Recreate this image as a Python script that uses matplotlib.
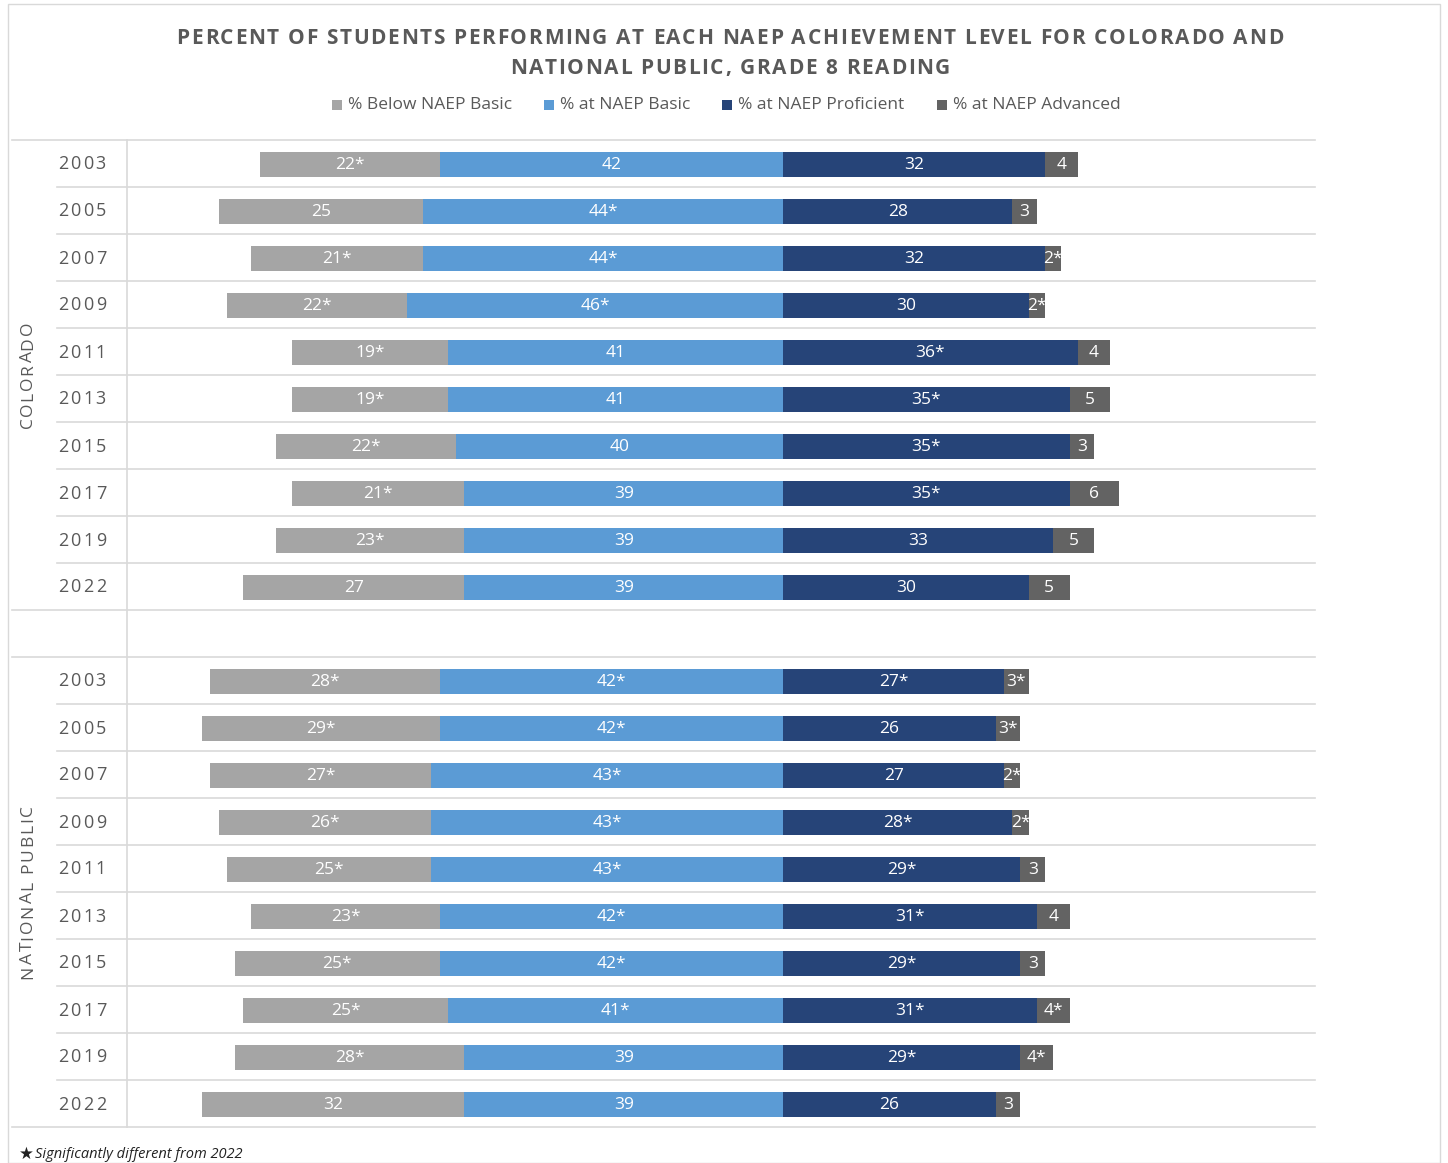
import matplotlib
matplotlib.use("Agg")
import matplotlib.pyplot as plt
from matplotlib.lines import Line2D
from matplotlib.patches import Rectangle
from matplotlib.font_manager import FontProperties

plt.rcParams["font.family"] = ["Open Sans", "DejaVu Sans"]

# data (labels as printed; * = significantly different from 2022)
years = ["2003", "2005", "2007", "2009", "2011", "2013", "2015", "2017", "2019", "2022"]

co_below = ["22*", "25", "21*", "22*", "19*", "19*", "22*", "21*", "23*", "27"]
co_basic = ["42", "44*", "44*", "46*", "41", "41", "40", "39", "39", "39"]
co_prof = ["32", "28", "32", "30", "36*", "35*", "35*", "35*", "33", "30"]
co_adv = ["4", "3", "2*", "2*", "4", "5", "3", "6", "5", "5"]

nat_below = ["28*", "29*", "27*", "26*", "25*", "23*", "25*", "25*", "28*", "32"]
nat_basic = ["42*", "42*", "43*", "43*", "43*", "42*", "42*", "41*", "39", "39"]
nat_prof = ["27*", "26", "27", "28*", "29*", "31*", "29*", "31*", "29*", "26"]
nat_adv = ["3*", "3*", "2*", "2*", "3", "4", "3", "4*", "4*", "3"]

groups = ["COLORADO", "NATIONAL PUBLIC"]
title_lines = ["PERCENT OF STUDENTS PERFORMING AT EACH NAEP ACHIEVEMENT LEVEL FOR COLORADO AND",
               "NATIONAL PUBLIC, GRADE 8 READING"]
legend_labels = ["% Below NAEP Basic", "% at NAEP Basic", "% at NAEP Proficient", "% at NAEP Advanced"]
colors = ["#a5a5a5", "#5b9bd5", "#264478", "#636363"]
text_c = "#595959"

W, H = 1448, 1163


def fx(x):
    return x / W


def fy(y):
    return 1 - y / H


def val(s):
    return float(s.rstrip("*"))


fig = plt.figure(figsize=(W / 100, H / 100), dpi=100)
fig.patch.set_facecolor("white")
renderer = fig.canvas.get_renderer()


def spaced(cx, cy, s, spacing, size, weight="normal", rotated=False, color=text_c):
    # Excel-style letter spacing: place glyphs one by one
    prop = FontProperties(family=["Open Sans", "DejaVu Sans"], size=size, weight=weight)
    widths = [renderer.get_text_width_height_descent(c, prop, ismath=False)[0] for c in s]
    total = sum(widths) + spacing * (len(s) - 1)
    pos = -total / 2
    for c, w in zip(s, widths):
        if rotated:
            fig.text(fx(cx), fy(cy - pos), c, rotation=90, ha="center", va="bottom",
                     fontproperties=prop, color=color)
        else:
            fig.text(fx(cx + pos), fy(cy), c, ha="left", va="center", fontproperties=prop,
                     color=color)
        pos += w + spacing


# outer frame
fig.add_artist(Rectangle((fx(8), fy(1163)), fx(1440) - fx(8), fy(4) - fy(1163),
                         transform=fig.transFigure, fill=False, edgecolor="#d9d9d9", lw=1))

ax = fig.add_axes([fx(127), fy(1128), fx(1315) - fx(127), fy(141) - fy(1128)])
ax.set_xlim(-80.2, 65.0)
ax.set_ylim(20.5, -0.5)
ax.axis("off")

rows = [(co_below, co_basic, co_prof, co_adv, 0), (nat_below, nat_basic, nat_prof, nat_adv, 11)]
bar_h = 0.54
for below, basic, prof, adv, off in rows:
    for i in range(len(years)):
        y = off + i
        b, bs, p, a = val(below[i]), val(basic[i]), val(prof[i]), val(adv[i])
        segs = [(-(b + bs), b, below[i]), (-bs, bs, basic[i]), (0, p, prof[i]), (p, a, adv[i])]
        for (left, width, lab), c in zip(segs, colors):
            ax.barh(y, width, left=left, height=bar_h, color=c, edgecolor="none")
            ax.text(left + width / 2, y + 0.02, lab, color="white", ha="center", va="center",
                    fontsize=12.5)

# grid lines
grid_c = "#d9d9d9"
for k in range(22):
    ypix = 140 + k * 47
    x0 = 12 if k in (0, 10, 11, 21) else 57
    fig.add_artist(Line2D([fx(x0), fx(1315)], [fy(ypix), fy(ypix)], transform=fig.transFigure,
                          color=grid_c, lw=1.2))
fig.add_artist(Line2D([fx(127), fx(127)], [fy(140), fy(1127)], transform=fig.transFigure,
                      color=grid_c, lw=1.2))

# year labels
for off in (0, 11):
    for i, yr in enumerate(years):
        ypix = 140 + (off + i) * 47 + 24.5
        spaced(82, ypix, yr, 2.3, 13)

# group labels
spaced(28, 375, groups[0], 1.7, 12.5, rotated=True)
spaced(28, 892, groups[1], 1.8, 12.5, rotated=True)

# title
spaced(730, 38, title_lines[0], 1.65, 15, weight="bold")
spaced(730, 68, title_lines[1], 1.65, 15, weight="bold")

# legend
leg_x = [332, 544, 722, 937]
for x, lab, c in zip(leg_x, legend_labels, colors):
    fig.add_artist(Rectangle((fx(x), fy(110)), fx(10), 10 / H, transform=fig.transFigure,
                             facecolor=c, edgecolor="none"))
    fig.text(fx(x + 16), fy(105), lab, ha="left", va="center", fontsize=12.5, color=text_c)

# footnote
fig.text(fx(19), fy(1154), "\u2605", ha="left", va="center", fontsize=12, color="#222222",
         family=["DejaVu Sans"])
fig.text(fx(35), fy(1154), "Significantly different from 2022", ha="left", va="center",
         fontsize=10.5, style="italic", color="#222222")

fig.savefig("out.png", dpi=100)
